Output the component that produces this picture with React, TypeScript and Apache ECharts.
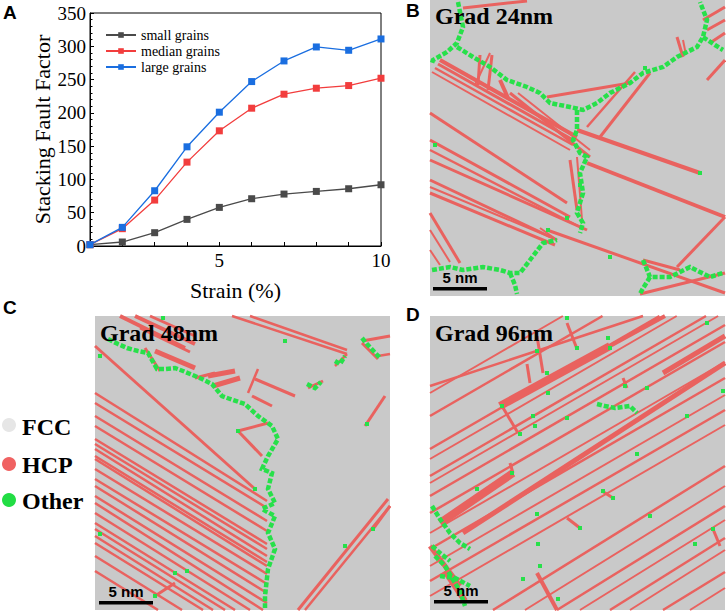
import { useEffect, useRef } from "react";
import * as echarts from "echarts";

// ---- Panel A data ----
const strain = [1, 2, 3, 4, 5, 6, 7, 8, 9, 10];
const smallGrains = [2, 6, 20, 40, 58, 71, 78, 82, 86, 92];
const medianGrains = [2, 26, 69, 126, 173, 207, 228, 237, 241, 252];
const largeGrains = [2, 28, 83, 149, 201, 247, 278, 299, 294, 311];
const seriesNames = ["small grains", "median grains", "large grains"];
const seriesColors = ["#4a4a4a", "#f23d3d", "#1a6ee0"];
const shownXLabels = [5, 10];

// ---- Decorative atomistic panels (local px coords) ----
type Seg = number[]; // x1,y1,x2,y2,width
const RED = "#e9625f";
const GREEN = "#27e04a";
const GRAY = "#c9c9c9";

const bReds: Seg[] = [
  [33, 8, 97, 1, 3],
  [273, 20, 295, 7, 3], [277, 30, 295, 20, 3], [280, 43, 295, 33, 3], [277, 80, 295, 60, 3],
  [247, 37, 253, 57, 3], [253, 40, 256, 55, 2],
  [10, 60, 147, 137, 4], [8, 64, 145, 141, 3], [5, 68, 143, 145, 2.5], [2, 72, 140, 150, 2],
  [80, 93, 160, 157, 3], [88, 93, 160, 150, 2],
  [50, 55, 48, 85, 3], [62, 55, 58, 90, 3], [70, 80, 78, 98, 4], [60, 53, 45, 85, 2],
  [0, 113, 137, 203, 3], [0, 140, 140, 217, 3], [0, 150, 150, 227, 2.5], [0, 160, 157, 230, 3],
  [0, 180, 127, 240, 3], [0, 187, 120, 237, 2], [0, 193, 125, 245, 3],
  [0, 213, 30, 263, 3], [0, 230, 20, 262, 2], [0, 250, 10, 265, 2],
  [117, 230, 295, 293, 3], [110, 228, 127, 240, 2],
  [147, 130, 270, 173, 4], [157, 163, 295, 217, 4], [117, 97, 200, 83, 3], [170, 137, 220, 73, 3],
  [157, 127, 205, 72, 2.5],
  [247, 267, 295, 217, 3], [210, 294, 295, 273, 3], [213, 260, 250, 270, 3],
  [140, 160, 147, 210, 3], [147, 157, 152, 220, 2],
];
const bGreens: number[][][] = [
  [[28, 0], [33, 27], [27, 43], [17, 52], [3, 60], [0, 63]],
  [[27, 47], [43, 57], [60, 67], [77, 80], [97, 87], [110, 93], [120, 103], [140, 107], [153, 110], [167, 103], [180, 93], [200, 83], [213, 73], [233, 67], [247, 57], [267, 47], [273, 37], [277, 20], [270, 0]],
  [[273, 37], [285, 45], [295, 50]],
  [[147, 110], [147, 130], [143, 140], [150, 153], [157, 157], [150, 173], [153, 193], [147, 213], [153, 223], [150, 233]],
  [[0, 270], [20, 267], [33, 270], [53, 267], [70, 270], [80, 273], [90, 273], [100, 260], [113, 243], [127, 240]],
  [[80, 273], [85, 285], [87, 296]],
  [[213, 260], [220, 277], [240, 277], [260, 267], [280, 277], [295, 273]],
  [[220, 277], [212, 290], [210, 296]],
];
const bDots: number[][] = [[5, 145], [270, 173], [137, 218], [118, 230], [180, 257], [215, 68], [150, 185]];

const cReds: Seg[] = [
  [137, 0, 252, 38, 2.5], [155, 0, 252, 34, 2.5], [252, 38, 240, 50, 2.5],
  [267, 25, 295, 20, 3], [267, 27, 283, 43, 3], [283, 40, 295, 38, 2.5],
  [40, 0, 100, 28, 4], [55, 0, 100, 20, 3], [25, 0, 90, 32, 4], [45, 12, 95, 36, 3],
  [60, 35, 100, 52, 5], [50, 32, 65, 55, 3],
  [113, 60, 140, 55, 5], [118, 70, 145, 62, 5], [100, 62, 120, 57, 3],
  [160, 63, 200, 80, 3], [163, 53, 153, 77, 2.5], [157, 80, 177, 90, 3], [213, 72, 228, 65, 3],
  [143, 115, 173, 107, 3], [143, 115, 167, 140, 3],
  [0, 30, 160, 173, 3],
  [0, 77, 172, 185, 2.5], [0, 87, 172, 192, 2.5], [0, 100, 172, 205, 2.5], [0, 110, 172, 215, 2.5],
  [0, 123, 172, 228, 2.5], [0, 128, 172, 233, 2.5], [0, 133, 172, 240, 2.5], [0, 140, 172, 246, 2.5],
  [0, 143, 172, 250, 2.5], [0, 153, 172, 258, 2.5], [0, 163, 172, 268, 2.5], [0, 170, 172, 277, 2.5],
  [0, 180, 172, 287, 2.5], [0, 187, 168, 294, 2.5], [0, 197, 155, 294, 2.5], [0, 207, 140, 294, 2.5],
  [0, 213, 130, 294, 2.5], [0, 220, 118, 294, 2.5], [0, 227, 108, 294, 2.5], [0, 240, 87, 294, 2.5],
  [0, 255, 63, 294, 2.5],
  [60, 280, 80, 267, 3],
  [203, 294, 293, 183, 3], [210, 294, 295, 190, 2.5], [290, 80, 270, 110, 3], [295, 190, 278, 213, 3],
];
const cGreens: number[][][] = [
  [[13, 23], [23, 28], [32, 32], [43, 35], [53, 37], [62, 53], [70, 53], [80, 52], [88, 55], [100, 60], [107, 63], [117, 68], [127, 80], [135, 83], [150, 88], [163, 100], [177, 110], [183, 123], [173, 140], [167, 153], [177, 157], [173, 173], [180, 187], [167, 193], [180, 200], [173, 217], [180, 233], [173, 253], [170, 280], [170, 294]],
  [[212, 68], [220, 72], [226, 66]],
  [[240, 45], [245, 48], [250, 40]],
  [[267, 22], [272, 28], [285, 42]],
];
const cDots: number[][] = [[5, 218], [5, 40], [143, 115], [160, 173], [60, 280], [250, 230], [272, 108], [278, 213], [80, 257], [92, 255], [190, 25], [68, 2]];

const dReds: Seg[] = [
  [0, 70, 213, 0, 2.5], [0, 77, 295, -94, 2], [0, 100, 295, -71, 2.5], [0, 133, 295, -38, 2.5],
  [0, 143, 295, -28, 2], [0, 160, 295, -11, 2.5], [0, 167, 295, -4, 2], [0, 180, 295, 9, 2.5],
  [0, 197, 295, 26, 2.5], [0, 217, 295, 46, 2], [0, 233, 295, 62, 2.5], [0, 250, 295, 79, 2],
  [0, 265, 295, 94, 2.5], [0, 280, 295, 109, 2],
  [63, 294, 295, 150, 2.5], [95, 294, 295, 170, 2], [127, 294, 295, 190, 2.5], [150, 294, 295, 204, 2],
  [180, 294, 295, 222, 2.5], [200, 294, 295, 234, 2], [233, 294, 295, 256, 2.5], [260, 294, 295, 272, 2],
  [70, 90, 180, 30, 8], [180, 30, 235, 0, 4], [10, 207, 83, 157, 8], [33, 217, 295, 47, 5],
  [233, 57, 295, 20, 5],
  [97, 48, 100, 67, 3], [107, 20, 113, 57, 3], [137, 7, 147, 33, 3], [72, 90, 88, 117, 3],
  [193, 62, 197, 72, 3], [80, 147, 83, 157, 3], [137, 202, 150, 212, 3], [172, 175, 183, 182, 3],
  [107, 257, 127, 294, 4], [283, 213, 290, 230, 3], [0, 230, 30, 270, 5], [15, 255, 35, 285, 6],
];
const dGreens: number[][][] = [
  [[0, 190], [10, 203], [20, 217], [30, 227], [40, 233]],
  [[5, 240], [15, 250], [22, 262], [30, 275], [35, 290]],
  [[0, 230], [10, 237], [20, 245]],
  [[10, 260], [25, 262], [40, 270]],
  [[167, 88], [175, 90], [185, 92], [200, 90], [207, 97]],
];
const dDots: number[][] = [
  [107, 35], [117, 57], [118, 77], [147, 32], [178, 22], [180, 32], [195, 70], [217, 72],
  [72, 90], [103, 100], [105, 110], [90, 118], [137, 102], [257, 100], [207, 138],
  [82, 157], [47, 173], [107, 198], [173, 175], [183, 182], [220, 200], [150, 212], [108, 228],
  [283, 213], [265, 228], [110, 250], [93, 263], [128, 283], [277, 7], [293, 75], [137, 2],
];

function clipSeg(x1: number, y1: number, x2: number, y2: number, w: number, h: number) {
  let t0 = 0, t1 = 1;
  const dx = x2 - x1, dy = y2 - y1;
  const p = [-dx, dx, -dy, dy];
  const q = [x1, w - x1, y1, h - y1];
  for (let i = 0; i < 4; i++) {
    if (p[i] === 0) {
      if (q[i] < 0) return null;
    } else {
      const r = q[i] / p[i];
      if (p[i] < 0) { if (r > t1) return null; if (r > t0) t0 = r; }
      else { if (r < t0) return null; if (r < t1) t1 = r; }
    }
  }
  return [x1 + t0 * dx, y1 + t0 * dy, x1 + t1 * dx, y1 + t1 * dy];
}

function buildPanel(ox: number, oy: number, w: number, h: number, reds: Seg[], greens: number[][][], dots: number[][]) {
  const els: any[] = [];
  els.push({ type: "rect", shape: { x: ox, y: oy, width: w, height: h }, style: { fill: GRAY }, silent: true });
  reds.forEach((s) => {
    const c = clipSeg(s[0], s[1], s[2], s[3], w, h);
    if (!c) return;
    els.push({
      type: "line",
      shape: { x1: ox + c[0], y1: oy + c[1], x2: ox + c[2], y2: oy + c[3] },
      style: { stroke: RED, lineWidth: s[4], lineCap: "butt" },
      silent: true,
    });
  });
  greens.forEach((pl) => {
    els.push({
      type: "polyline",
      shape: { points: pl.map((p) => [ox + Math.min(Math.max(p[0], 2), w - 2), oy + Math.min(Math.max(p[1], 2), h - 2)]) },
      style: { stroke: GREEN, lineWidth: 4.5, fill: null, lineDash: [5, 2] },
      silent: true,
    });
  });
  dots.forEach((d) => {
    els.push({
      type: "rect",
      shape: { x: ox + Math.min(Math.max(d[0] - 2, 0), w - 4), y: oy + Math.min(Math.max(d[1] - 2, 0), h - 4), width: 4, height: 4 },
      style: { fill: GREEN },
      silent: true,
    });
  });
  return els;
}

function labelText(x: number, y: number, text: string, size: number, family: string, align = "left") {
  return {
    type: "text",
    x,
    y,
    style: { text, fill: "#000", font: `bold ${size}px "${family}"`, textAlign: align, textVerticalAlign: "middle" },
    silent: true,
  };
}

function scaleBar(x: number, y: number) {
  return [
    { type: "rect", shape: { x, y, width: 54, height: 3.5 }, style: { fill: "#000" }, silent: true },
    labelText(x + 27, y - 10, "5 nm", 15, "Liberation Sans", "center"),
  ];
}

export default function App() {
  const ref = useRef<HTMLDivElement>(null);
  useEffect(() => {
    document.body.style.margin = "0";
    if (!ref.current) return;
    const chart = echarts.init(ref.current, null, { renderer: "svg" });
    const serif = "Liberation Serif";
    const datasets = [smallGrains, medianGrains, largeGrains];

    const graphic: any[] = [
      ...buildPanel(430, 0, 295, 296, bReds, bGreens, bDots),
      ...buildPanel(95, 316, 295, 294, cReds, cGreens, cDots),
      ...buildPanel(430, 316, 295, 294, dReds, dGreens, dDots),
      labelText(3, 12, "A", 19, "Liberation Sans"),
      labelText(406, 10, "B", 19, "Liberation Sans"),
      labelText(3, 307, "C", 19, "Liberation Sans"),
      labelText(406, 314, "D", 19, "Liberation Sans"),
      labelText(435, 16, "Grad 24nm", 24, serif),
      labelText(100, 333, "Grad 48nm", 24, serif),
      labelText(435, 333, "Grad 96nm", 24, serif),
      ...scaleBar(433, 287),
      ...scaleBar(99, 601),
      ...scaleBar(434, 600),
      { type: "circle", shape: { cx: 9, cy: 425, r: 7 }, style: { fill: "#e6e6e6" }, silent: true },
      { type: "circle", shape: { cx: 9, cy: 464, r: 7 }, style: { fill: "#f06262" }, silent: true },
      { type: "circle", shape: { cx: 9, cy: 500, r: 7 }, style: { fill: "#22dd44" }, silent: true },
      labelText(22, 427, "FCC", 24, serif),
      labelText(22, 465, "HCP", 24, serif),
      labelText(22, 501, "Other", 24, serif),
    ];

    chart.setOption({
      animation: false,
      backgroundColor: "#fff",
      grid: { left: 90, right: 345, top: 13, bottom: 366, show: true, borderColor: "#000", borderWidth: 1 },
      legend: {
        orient: "vertical",
        left: 100,
        top: 23,
        itemWidth: 30,
        itemHeight: 7,
        itemGap: 2,
        data: seriesNames,
        textStyle: { fontFamily: serif, fontSize: 14, color: "#000" },
      },
      xAxis: {
        type: "value",
        min: 1,
        max: 10,
        interval: 1,
        name: "Strain (%)",
        nameLocation: "middle",
        nameGap: 33,
        nameTextStyle: { fontFamily: serif, fontSize: 22, color: "#000" },
        axisLine: { lineStyle: { color: "#000" } },
        axisTick: { inside: true, length: 4, lineStyle: { color: "#000" } },
        axisLabel: {
          fontFamily: serif,
          fontSize: 19,
          color: "#000",
          margin: 5,
          formatter: (v: number) => (shownXLabels.includes(v) ? String(v) : ""),
        },
        splitLine: { show: false },
      },
      yAxis: {
        type: "value",
        min: 0,
        max: 350,
        interval: 50,
        name: "Stacking Fault Factor",
        nameLocation: "middle",
        nameGap: 34,
        nameTextStyle: { fontFamily: serif, fontSize: 22, color: "#000" },
        axisLine: { show: true, lineStyle: { color: "#000" } },
        axisTick: { show: true, inside: true, length: 4, lineStyle: { color: "#000" } },
        minorTick: { show: true, splitNumber: 5, length: 2.5, lineStyle: { color: "#000" } },
        axisLabel: { fontFamily: serif, fontSize: 19, color: "#000", margin: 4 },
        splitLine: { show: false },
      },
      series: datasets.map((d, i) => ({
        name: seriesNames[i],
        type: "line",
        data: strain.map((x, j) => [x, d[j]]),
        symbol: "rect",
        symbolSize: 7,
        color: seriesColors[i],
        lineStyle: { width: 1.3, color: seriesColors[i] },
        itemStyle: { color: seriesColors[i] },
        z: 2 + i,
      })),
      graphic,
    });
    return () => chart.dispose();
  }, []);
  return <div ref={ref} style={{ width: 726, height: 612 }} />;
}
